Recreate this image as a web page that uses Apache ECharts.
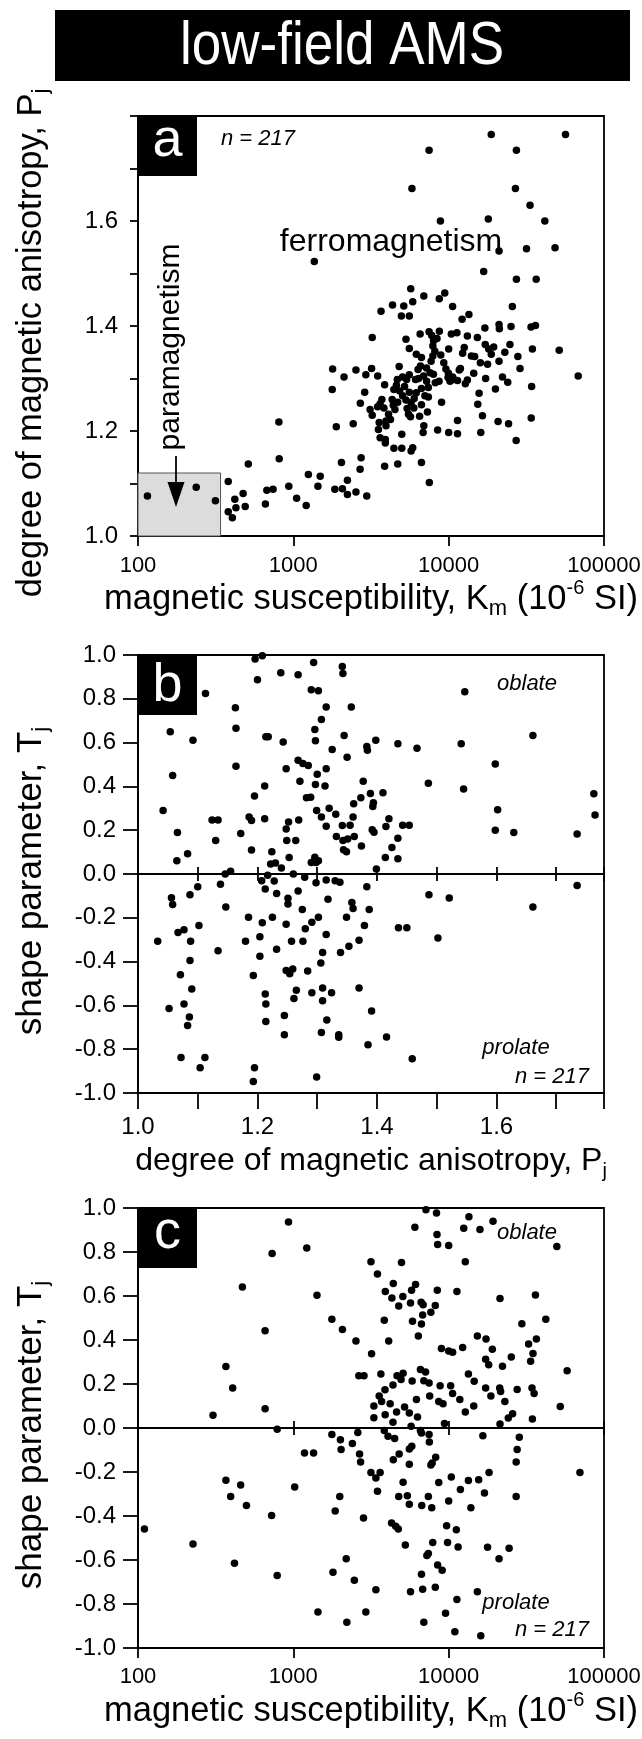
<!DOCTYPE html>
<html>
<head>
<meta charset="utf-8">
<script src="https://cdn.jsdelivr.net/npm/echarts@6.0.0/dist/echarts.min.js"></script>
<style>
html,body{margin:0;padding:0;background:#fff;}
#chart{width:642px;height:1739px;}
</style>
</head>
<body>
<div id="chart"></div>
<script>
const FONT = "'Liberation Sans', Arial, Helvetica, sans-serif";
const TITLE = 'low-field AMS';
const N_LABEL = 'n = 217';
const K_TICKS = [100, 1000, 10000, 100000];
const P_RANGE_A = [1.0, 1.8];
const P_RANGE_B = [1.0, 1.78];
const T_RANGE = [-1, 1];
const PARA_BOX = [[100, 1.0], [340, 1.12]];

// panel a: [Km (1e-6 SI), Pj]
const panelA = [
[18800,1.765],[56500,1.765],[7480,1.735],[27300,1.735],[5800,1.662],[26900,1.662],[33400,1.630],[8850,1.600],[18000,1.604],[41600,1.600],
[21100,1.543],[31700,1.547],[48400,1.549],[1365,1.523],[16800,1.504],[27300,1.489],[36600,1.489],[5700,1.471],[6920,1.457],[9440,1.463],
[8700,1.452],[5870,1.446],[4350,1.440],[5140,1.438],[10600,1.437],[25700,1.437],[3670,1.428],[4960,1.419],[5580,1.419],[12200,1.413],
[13500,1.422],[3220,1.378],[6550,1.385],[7480,1.389],[8710,1.390],[7780,1.382],[10400,1.385],[17100,1.396],[21100,1.403],[21200,1.395],
[25200,1.399],[33900,1.398],[36200,1.401],[51500,1.354],[68200,1.305],[34600,1.356],[27900,1.342],[24800,1.365],[17200,1.365],[17800,1.327],
[15700,1.272],[15400,1.251],[16500,1.229],[16100,1.197],[20800,1.218],[24300,1.214],[27200,1.182],[34000,1.225],[34200,1.285],[24000,1.293],
[22200,1.303],[28800,1.319],[17300,1.300],[13200,1.297],[11900,1.319],[11400,1.220],[11400,1.195],[10000,1.197],[8490,1.202],[8670,1.295],
[7510,1.102],[6680,1.140],[6920,1.210],[5730,1.162],[4990,1.167],[4700,1.137],[4440,1.167],[3910,1.177],[3620,1.187],[3870,1.133],
[3220,1.230],[2880,1.274],[2700,1.253],[2530,1.316],[2930,1.307],[2120,1.303],[1790,1.318],[1780,1.279],[1890,1.208],[2430,1.214],
[2730,1.149],[2690,1.127],[2040,1.140],[2230,1.106],[2070,1.090],[1850,1.089],[2230,1.079],[2530,1.084],[2970,1.076],[1490,1.114],
[1250,1.117],[1440,1.095],[1210,1.058],[1050,1.072],[935,1.095],[811,1.147],[807,1.217],[740,1.089],[675,1.087],[661,1.061],
[513,1.137],[490,1.056],[475,1.081],[427,1.054],[420,1.070],[381,1.104],[381,1.046],[405,1.035],[315,1.067],[237,1.093],
[115,1.076],[3715,1.260],[3620,1.252],[3490,1.246],[3830,1.244],[4330,1.260],[4400,1.249],[4510,1.241],[4670,1.298],[4800,1.323],
[4610,1.287],[5050,1.303],[5360,1.298],[5580,1.307],[6120,1.298],[4840,1.276],[5050,1.267],[5310,1.259],[5580,1.274],[5730,1.254],
[5970,1.244],[5510,1.232],[5680,1.227],[6680,1.281],[7030,1.267],[7400,1.283],[7590,1.311],[7980,1.308],[7710,1.333],[7910,1.343],
[8150,1.352],[7910,1.362],[8410,1.376],[6680,1.340],[6580,1.324],[6190,1.346],[5310,1.375],[5580,1.357],[9910,1.302],[10800,1.298],
[11700,1.316],[12300,1.348],[14000,1.343],[14700,1.342],[18100,1.356],[12600,1.359],[13200,1.381],[10000,1.356],[3910,1.184],[4220,1.222],
[3950,1.210],[3530,1.203],[3120,1.241],[4440,1.279],[7210,1.295],[6350,1.317],[11400,1.296],[10600,1.303],[10200,1.295],[9960,1.310],
[11300,1.387],[15300,1.378],[18800,1.346],[21100,1.333],[3490,1.305],[3190,1.319],[3870,1.288],[3570,1.216],[3950,1.219],[6680,1.250],
[7400,1.265],[6190,1.273],[5870,1.168],[4990,1.194],[6850,1.197],[8900,1.345],[9300,1.330],[9600,1.318],[6400,1.300],[6900,1.305],
[7200,1.320],[8200,1.292],[5200,1.285],[4700,1.255],[6000,1.262],[6500,1.228],[7300,1.236],[9000,1.255],[12800,1.290],[14500,1.310],
[16000,1.330],[19500,1.360],[23000,1.350],[20000,1.280],[8000,1.372],[4100,1.232],[5400,1.243]
];

// panel b: [Pj, Tj]
const panelB = [
[1.208,0.997],[1.196,0.982],[1.200,0.887],[1.239,0.919],[1.268,0.910],[1.294,0.966],[1.342,0.947],[1.343,0.915],[1.290,0.841],[1.302,0.837],
[1.113,0.824],[1.547,0.832],[1.163,0.759],[1.315,0.763],[1.357,0.763],[1.307,0.705],[1.164,0.666],[1.054,0.649],[1.296,0.660],[1.092,0.611],
[1.214,0.627],[1.218,0.627],[1.243,0.603],[1.297,0.608],[1.345,0.632],[1.325,0.569],[1.383,0.582],[1.384,0.565],[1.398,0.611],[1.435,0.595],
[1.467,0.574],[1.541,0.595],[1.661,0.632],[1.350,0.533],[1.268,0.519],[1.276,0.504],[1.285,0.496],[1.598,0.502],[1.164,0.492],[1.248,0.481],
[1.315,0.481],[1.058,0.450],[1.300,0.455],[1.271,0.423],[1.377,0.423],[1.212,0.402],[1.297,0.409],[1.313,0.402],[1.486,0.414],[1.545,0.388],
[1.195,0.356],[1.282,0.348],[1.289,0.351],[1.389,0.368],[1.410,0.371],[1.373,0.348],[1.763,0.366],[1.361,0.321],[1.394,0.325],[1.393,0.308],
[1.042,0.290],[1.299,0.290],[1.602,0.293],[1.331,0.273],[1.765,0.269],[1.186,0.260],[1.190,0.244],[1.212,0.252],[1.307,0.260],[1.420,0.252],
[1.124,0.247],[1.134,0.247],[1.269,0.247],[1.252,0.237],[1.315,0.218],[1.342,0.221],[1.355,0.223],[1.443,0.223],[1.454,0.223],[1.248,0.206],
[1.415,0.217],[1.392,0.202],[1.395,0.191],[1.066,0.189],[1.598,0.200],[1.629,0.189],[1.735,0.183],[1.172,0.185],[1.332,0.171],[1.343,0.153],
[1.351,0.160],[1.362,0.171],[1.249,0.153],[1.264,0.153],[1.130,0.153],[1.435,0.163],[1.374,0.128],[1.425,0.121],[1.344,0.111],[1.349,0.102],
[1.083,0.092],[1.224,0.102],[1.065,0.060],[1.253,0.075],[1.414,0.075],[1.435,0.070],[1.222,0.046],[1.240,0.027],[1.296,0.076],[1.290,0.053],
[1.302,0.061],[1.298,0.053],[1.399,0.023],[1.146,0.000],[1.155,0.012],[1.217,-0.006],
[1.207,-0.031],[1.228,-0.032],[1.213,-0.069],[1.232,-0.089],[1.260,0.000],[1.279,-0.015],[1.298,-0.040],[1.315,-0.027],[1.330,-0.031],[1.338,-0.038],
[1.268,-0.078],[1.251,-0.111],[1.251,-0.137],[1.318,-0.115],[1.383,-0.058],[1.358,-0.130],[1.360,-0.157],[1.387,-0.162],[1.487,-0.095],[1.521,-0.110],
[1.735,-0.052],[1.661,-0.151],[1.100,-0.058],[1.138,-0.047],[1.056,-0.108],[1.058,-0.139],[1.087,-0.095],[1.147,-0.151],[1.275,-0.162],[1.302,-0.198],
[1.291,-0.220],[1.225,-0.198],[1.185,-0.198],[1.208,-0.223],[1.248,-0.229],[1.349,-0.198],[1.379,-0.235],[1.436,-0.246],[1.450,-0.246],[1.502,-0.292],
[1.102,-0.235],[1.067,-0.267],[1.077,-0.255],[1.033,-0.307],[1.088,-0.307],[1.180,-0.307],[1.204,-0.287],[1.257,-0.307],[1.276,-0.307],[1.315,-0.276],
[1.370,-0.302],[1.353,-0.330],[1.134,-0.350],[1.232,-0.344],[1.309,-0.359],[1.339,-0.359],[1.087,-0.395],[1.204,-0.376],[1.306,-0.406],[1.248,-0.441],
[1.254,-0.456],[1.259,-0.434],[1.284,-0.443],[1.071,-0.460],[1.193,-0.464],[1.090,-0.525],[1.265,-0.531],[1.309,-0.521],[1.370,-0.521],[1.213,-0.548],
[1.291,-0.542],[1.324,-0.542],[1.261,-0.568],[1.309,-0.579],[1.077,-0.594],[1.214,-0.594],[1.052,-0.614],[1.391,-0.626],[1.086,-0.653],[1.245,-0.646],
[1.316,-0.667],[1.214,-0.673],[1.083,-0.692],[1.245,-0.734],[1.307,-0.724],[1.336,-0.734],[1.336,-0.745],[1.416,-0.744],[1.385,-0.780],[1.072,-0.838],
[1.112,-0.838],[1.459,-0.844],[1.104,-0.885],[1.195,-0.885],[1.193,-0.948],[1.299,-0.927],
[1.230,0.050],[1.320,0.300],[1.280,-0.250],[1.190,0.110],[1.360,0.260]
];

// panel c: [Km (1e-6 SI), Tj]
const panelC = [
[7140,0.992],[8350,0.977],[13500,0.960],[19300,0.940],[931,0.936],[6060,0.913],[12500,0.908],[15900,0.902],[8410,0.880],[8490,0.834],
[10000,0.830],[49700,0.825],[1220,0.818],[730,0.793],[3160,0.756],[4970,0.752],[12800,0.756],[3480,0.700],[470,0.641],[4400,0.657],
[6120,0.652],[3910,0.620],[5770,0.626],[8450,0.626],[11300,0.621],[1420,0.603],[5070,0.598],[36200,0.605],[4310,0.591],[5680,0.568],
[6650,0.572],[6850,0.560],[21400,0.589],[4770,0.554],[8200,0.557],[6800,0.514],[7680,0.526],[1770,0.494],[3850,0.490],[5850,0.485],
[6680,0.473],[29600,0.474],[42200,0.494],[2070,0.448],[658,0.442],[2530,0.396],[4110,0.396],[6380,0.418],[15300,0.418],[17400,0.404],
[32700,0.382],[36700,0.405],[3190,0.338],[8980,0.361],[10000,0.350],[10600,0.344],[12300,0.366],[19100,0.358],[34900,0.339],[17300,0.313],
[25300,0.323],[33700,0.303],[18100,0.287],[22200,0.281],[368,0.280],[6580,0.266],[7100,0.254],[57900,0.260],[2640,0.238],[2850,0.238],
[3660,0.246],[4650,0.238],[5090,0.249],[4940,0.221],[13400,0.246],[5820,0.214],[6920,0.215],[7480,0.205],[4380,0.195],[8810,0.192],
[10300,0.192],[14600,0.212],[17300,0.182],[21300,0.182],[21600,0.166],[27600,0.175],[34400,0.182],[35500,0.157],[407,0.182],[3890,0.174],
[10600,0.157],[18700,0.145],[7550,0.146],[8630,0.120],[3570,0.146],[3700,0.121],
[304,0.058],[658,0.088],[787,-0.006],[52300,0.098],[3300,0.047],[4380,0.026],[4620,0.073],[5580,0.068],[5730,0.008],[12800,0.073],
[21400,0.018],[24200,0.045],[25800,0.065],[34600,0.041],[3850,-0.011],[4070,-0.038],[4490,-0.048],[6580,-0.011],[6680,-0.023],[7480,-0.030],
[7510,-0.064],[16600,-0.035],[28500,-0.042],[1770,-0.030],[2010,-0.053],[2030,-0.098],[2400,-0.071],[2670,-0.118],[2710,-0.155],[1180,-0.114],
[1350,-0.114],[5580,-0.095],[5790,-0.083],[4800,-0.118],[4400,-0.144],[5580,-0.165],[8250,-0.133],[7830,-0.159],[7680,-0.168],[27600,-0.098],
[27200,-0.155],[3160,-0.202],[3620,-0.202],[3400,-0.227],[3480,-0.288],[18200,-0.202],[70000,-0.202],[368,-0.238],[458,-0.259],[395,-0.311],
[499,-0.352],[1020,-0.268],[5090,-0.247],[8630,-0.248],[10400,-0.223],[11900,-0.280],[13400,-0.239],[15600,-0.235],[17000,-0.295],[27200,-0.311],
[1990,-0.311],[4770,-0.311],[5420,-0.308],[7400,-0.311],[10000,-0.332],[5580,-0.347],[6710,-0.352],[7780,-0.362],[13900,-0.362],[1860,-0.377],
[725,-0.398],[2830,-0.409],[110,-0.459],[4290,-0.432],[4560,-0.447],[4740,-0.459],[9700,-0.444],[11200,-0.462],[226,-0.527],[5260,-0.532],
[7900,-0.521],[9840,-0.521],[11500,-0.541],[17800,-0.542],[24500,-0.547],[7400,-0.571],[7240,-0.579],[418,-0.615],[2190,-0.594],[21100,-0.594],
[8490,-0.623],[9080,-0.647],[1800,-0.656],[6680,-0.665],[787,-0.670],[2470,-0.692],[3400,-0.735],[5680,-0.744],[6800,-0.733],[8200,-0.724],
[15300,-0.744],[11300,-0.780],[1440,-0.836],[2930,-0.836],[9550,-0.842],[2210,-0.883],[6920,-0.883],[10960,-0.926],[16100,-0.944],
[3300,0.100],[4200,0.110],[5200,0.095],[6200,0.130],[9200,0.110],[11800,0.130],[3900,0.060],[6300,0.050],[9400,0.020],[14500,0.100],
[23000,0.120],[2600,-0.020]
];

const BLACK = '#000';
const LINE = {color: BLACK, width: 1.8};
function nameStyle(size, shift) {
  return {fontSize: size, lineHeight: 42, fontFamily: FONT, color: BLACK,
    padding: shift ? [0, 2 * shift, 0, 0] : 0,
    rich: {
      sub: {fontSize: Math.round(size * 0.63), lineHeight: 22, verticalAlign: 'bottom', fontFamily: FONT, color: BLACK},
      sup: {fontSize: Math.round(size * 0.57), lineHeight: 28, verticalAlign: 'top', fontFamily: FONT, color: BLACK}
    }};
}
const LABEL = {fontSize: 24, fontFamily: FONT, color: BLACK};
const LABEL_K = {fontSize: 22, fontFamily: FONT, color: BLACK};
const K_NAME = 'magnetic susceptibility, K{sub|m} (10{sup|-6} SI)';
const P_NAME = 'degree of magnetic anisotropy, P{sub|j}';
const T_NAME = 'shape parameter, T{sub|j}';

function fmtK(v) {
  const r = Math.round(v);
  return K_TICKS.indexOf(r) >= 0 ? String(r) : '';
}
function fmtEvenTenth(maxT) {
  return function (v) {
    const t = Math.round(v * 10);
    if (Math.abs(v * 10 - t) > 1e-6) return '';
    return (t % 2 === 0 && t <= maxT) ? (t / 10).toFixed(1) : '';
  };
}
function fmtT(v) {
  const r = Math.round(v * 10) / 10;
  return (r === 0 ? 0 : r).toFixed(1);
}

function logAxis(grid, extra) {
  return Object.assign({
    gridIndex: grid, type: 'log', logBase: 10, min: K_TICKS[0], max: K_TICKS[K_TICKS.length - 1],
    splitLine: {show: false}, minorTick: {show: false}, minorSplitLine: {show: false}
  }, extra);
}
function valAxis(grid, range, interval, extra) {
  return Object.assign({
    gridIndex: grid, type: 'value', min: range[0], max: range[1], interval: interval,
    splitLine: {show: false}, minorTick: {show: false}
  }, extra);
}
function zeroAxes(grid, yIdx, base) {
  const common = {position: 'bottom', axisLabel: {show: false}, name: ''};
  return [
    Object.assign(base(), common, {axisLine: {show: true, onZero: true, onZeroAxisIndex: yIdx, lineStyle: LINE},
      axisTick: {show: true, inside: false, length: 7, lineStyle: LINE}}),
    Object.assign(base(), common, {axisLine: {show: true, onZero: true, onZeroAxisIndex: yIdx, lineStyle: LINE},
      axisTick: {show: true, inside: true, length: 7, lineStyle: LINE}})
  ];
}

const xAxes = [
  logAxis(0, {position: 'bottom', axisLine: {show: true, onZero: false, lineStyle: LINE},
    axisTick: {show: true, length: 10, lineStyle: LINE},
    axisLabel: Object.assign({margin: 19, formatter: fmtK}, LABEL_K),
    name: K_NAME, nameLocation: 'middle', nameGap: 42, nameTextStyle: nameStyle(34.5)}),
  valAxis(1, P_RANGE_B, 0.1, {position: 'bottom', axisLine: {show: true, onZero: false, lineStyle: LINE},
    axisTick: {show: true, length: 16, lineStyle: LINE},
    axisLabel: Object.assign({margin: 22, formatter: fmtEvenTenth(16)}, LABEL),
    name: P_NAME, nameLocation: 'middle', nameGap: 42, nameTextStyle: nameStyle(32)})
].concat(zeroAxes(1, 1, () => valAxis(1, P_RANGE_B, 0.1, {})))
 .concat([
  logAxis(2, {position: 'bottom', axisLine: {show: true, onZero: false, lineStyle: LINE},
    axisTick: {show: true, length: 10, lineStyle: LINE},
    axisLabel: Object.assign({margin: 18, formatter: fmtK}, LABEL_K),
    name: K_NAME, nameLocation: 'middle', nameGap: 42, nameTextStyle: nameStyle(34.5)})
 ]).concat(zeroAxes(2, 2, () => logAxis(2, {})));

const yAxes = [
  valAxis(0, P_RANGE_A, 0.1, {position: 'left', axisLine: {show: true, onZero: false, lineStyle: LINE},
    axisTick: {show: true, length: 8, lineStyle: LINE},
    axisLabel: Object.assign({margin: 20, formatter: fmtEvenTenth(16)}, LABEL),
    name: P_NAME, nameLocation: 'middle', nameGap: 86, nameTextStyle: nameStyle(34.5, 17)}),
  valAxis(1, T_RANGE, 0.2, {position: 'left', axisLine: {show: true, onZero: false, lineStyle: LINE},
    axisTick: {show: true, length: 15, lineStyle: LINE},
    axisLabel: Object.assign({margin: 22, formatter: fmtT}, LABEL),
    name: T_NAME, nameLocation: 'middle', nameGap: 86, nameTextStyle: nameStyle(35, 7)}),
  valAxis(2, T_RANGE, 0.2, {position: 'left', axisLine: {show: true, onZero: false, lineStyle: LINE},
    axisTick: {show: true, length: 15, lineStyle: LINE},
    axisLabel: Object.assign({margin: 22, formatter: fmtT}, LABEL),
    name: T_NAME, nameLocation: 'middle', nameGap: 86, nameTextStyle: nameStyle(35, 7)})
];

const GRID_BASE = {left: 138, right: 38, show: true, borderColor: BLACK, borderWidth: 1.8,
  backgroundColor: 'transparent', containLabel: false, outerBoundsMode: 'none'};
const grids = [
  Object.assign({top: 116, height: 420}, GRID_BASE),
  Object.assign({top: 655, height: 438}, GRID_BASE),
  Object.assign({top: 1208, height: 440}, GRID_BASE)
];

function dots(xi, yi, data) {
  return {type: 'scatter', xAxisIndex: xi, yAxisIndex: yi, data: data, symbol: 'circle', symbolSize: 7.5,
    itemStyle: {color: BLACK, opacity: 1}, z: 3, silent: true};
}

function labelBox(top, letter, textY) {
  return [
    {type: 'rect', z: 100, shape: {x: 138, y: top, width: 59, height: 60}, style: {fill: BLACK}},
    {type: 'text', z: 101, x: 167.5, y: textY, style: {text: letter, fill: '#fff', fontSize: 54, fontFamily: FONT,
      align: 'center', verticalAlign: 'middle'}}
  ];
}
function note(x, y, text, size, italic, rot) {
  return {type: 'text', z: 100, x: x, y: y, rotation: rot || 0,
    style: {text: text, fill: BLACK, fontSize: size, fontFamily: FONT, fontStyle: italic ? 'italic' : 'normal',
      align: 'center', verticalAlign: 'middle'}};
}

const graphics = [
  {type: 'rect', z: 100, shape: {x: 55, y: 10, width: 575, height: 71}, style: {fill: BLACK}},
  {type: 'text', z: 101, x: 342, y: 47, scaleY: 1.15, style: {text: TITLE, fill: '#fff', fontSize: 53, fontFamily: FONT,
    align: 'center', verticalAlign: 'middle'}}
].concat(labelBox(116, 'a', 141), labelBox(655, 'b', 686), labelBox(1208, 'c', 1233), [
  note(258, 139, N_LABEL, 22, true),
  note(391, 242, 'ferromagnetism', 32, false),
  note(171, 347, 'paramagnetism', 30, false, Math.PI / 2),
  {type: 'line', z: 100, shape: {x1: 176, y1: 456, x2: 176, y2: 484}, style: {stroke: BLACK, lineWidth: 1.8}},
  {type: 'polygon', z: 100, shape: {points: [[167.5, 482], [184.5, 482], [176, 507]]}, style: {fill: BLACK}},
  note(527, 684, 'oblate', 22, true),
  note(516, 1048, 'prolate', 22, true),
  note(552, 1077, N_LABEL, 22, true),
  note(527, 1233, 'oblate', 22, true),
  note(516, 1603, 'prolate', 22, true),
  note(552, 1630, N_LABEL, 22, true)
]);

const option = {
  animation: false,
  backgroundColor: '#fff',
  textStyle: {fontFamily: FONT},
  grid: grids,
  xAxis: xAxes,
  yAxis: yAxes,
  series: [
    {type: 'scatter', xAxisIndex: 0, yAxisIndex: 0, data: [], z: 1, silent: true,
      markArea: {silent: true, itemStyle: {color: '#dcdcdc', borderColor: '#555', borderWidth: 1},
        data: [[{coord: PARA_BOX[0]}, {coord: PARA_BOX[1]}]]}},
    dots(0, 0, panelA),
    dots(1, 1, panelB),
    dots(4, 2, panelC)
  ],
  graphic: graphics
};

const chart = echarts.init(document.getElementById('chart'), null, {renderer: 'canvas', width: 642, height: 1739});
chart.setOption(option);
</script>
</body>
</html>
